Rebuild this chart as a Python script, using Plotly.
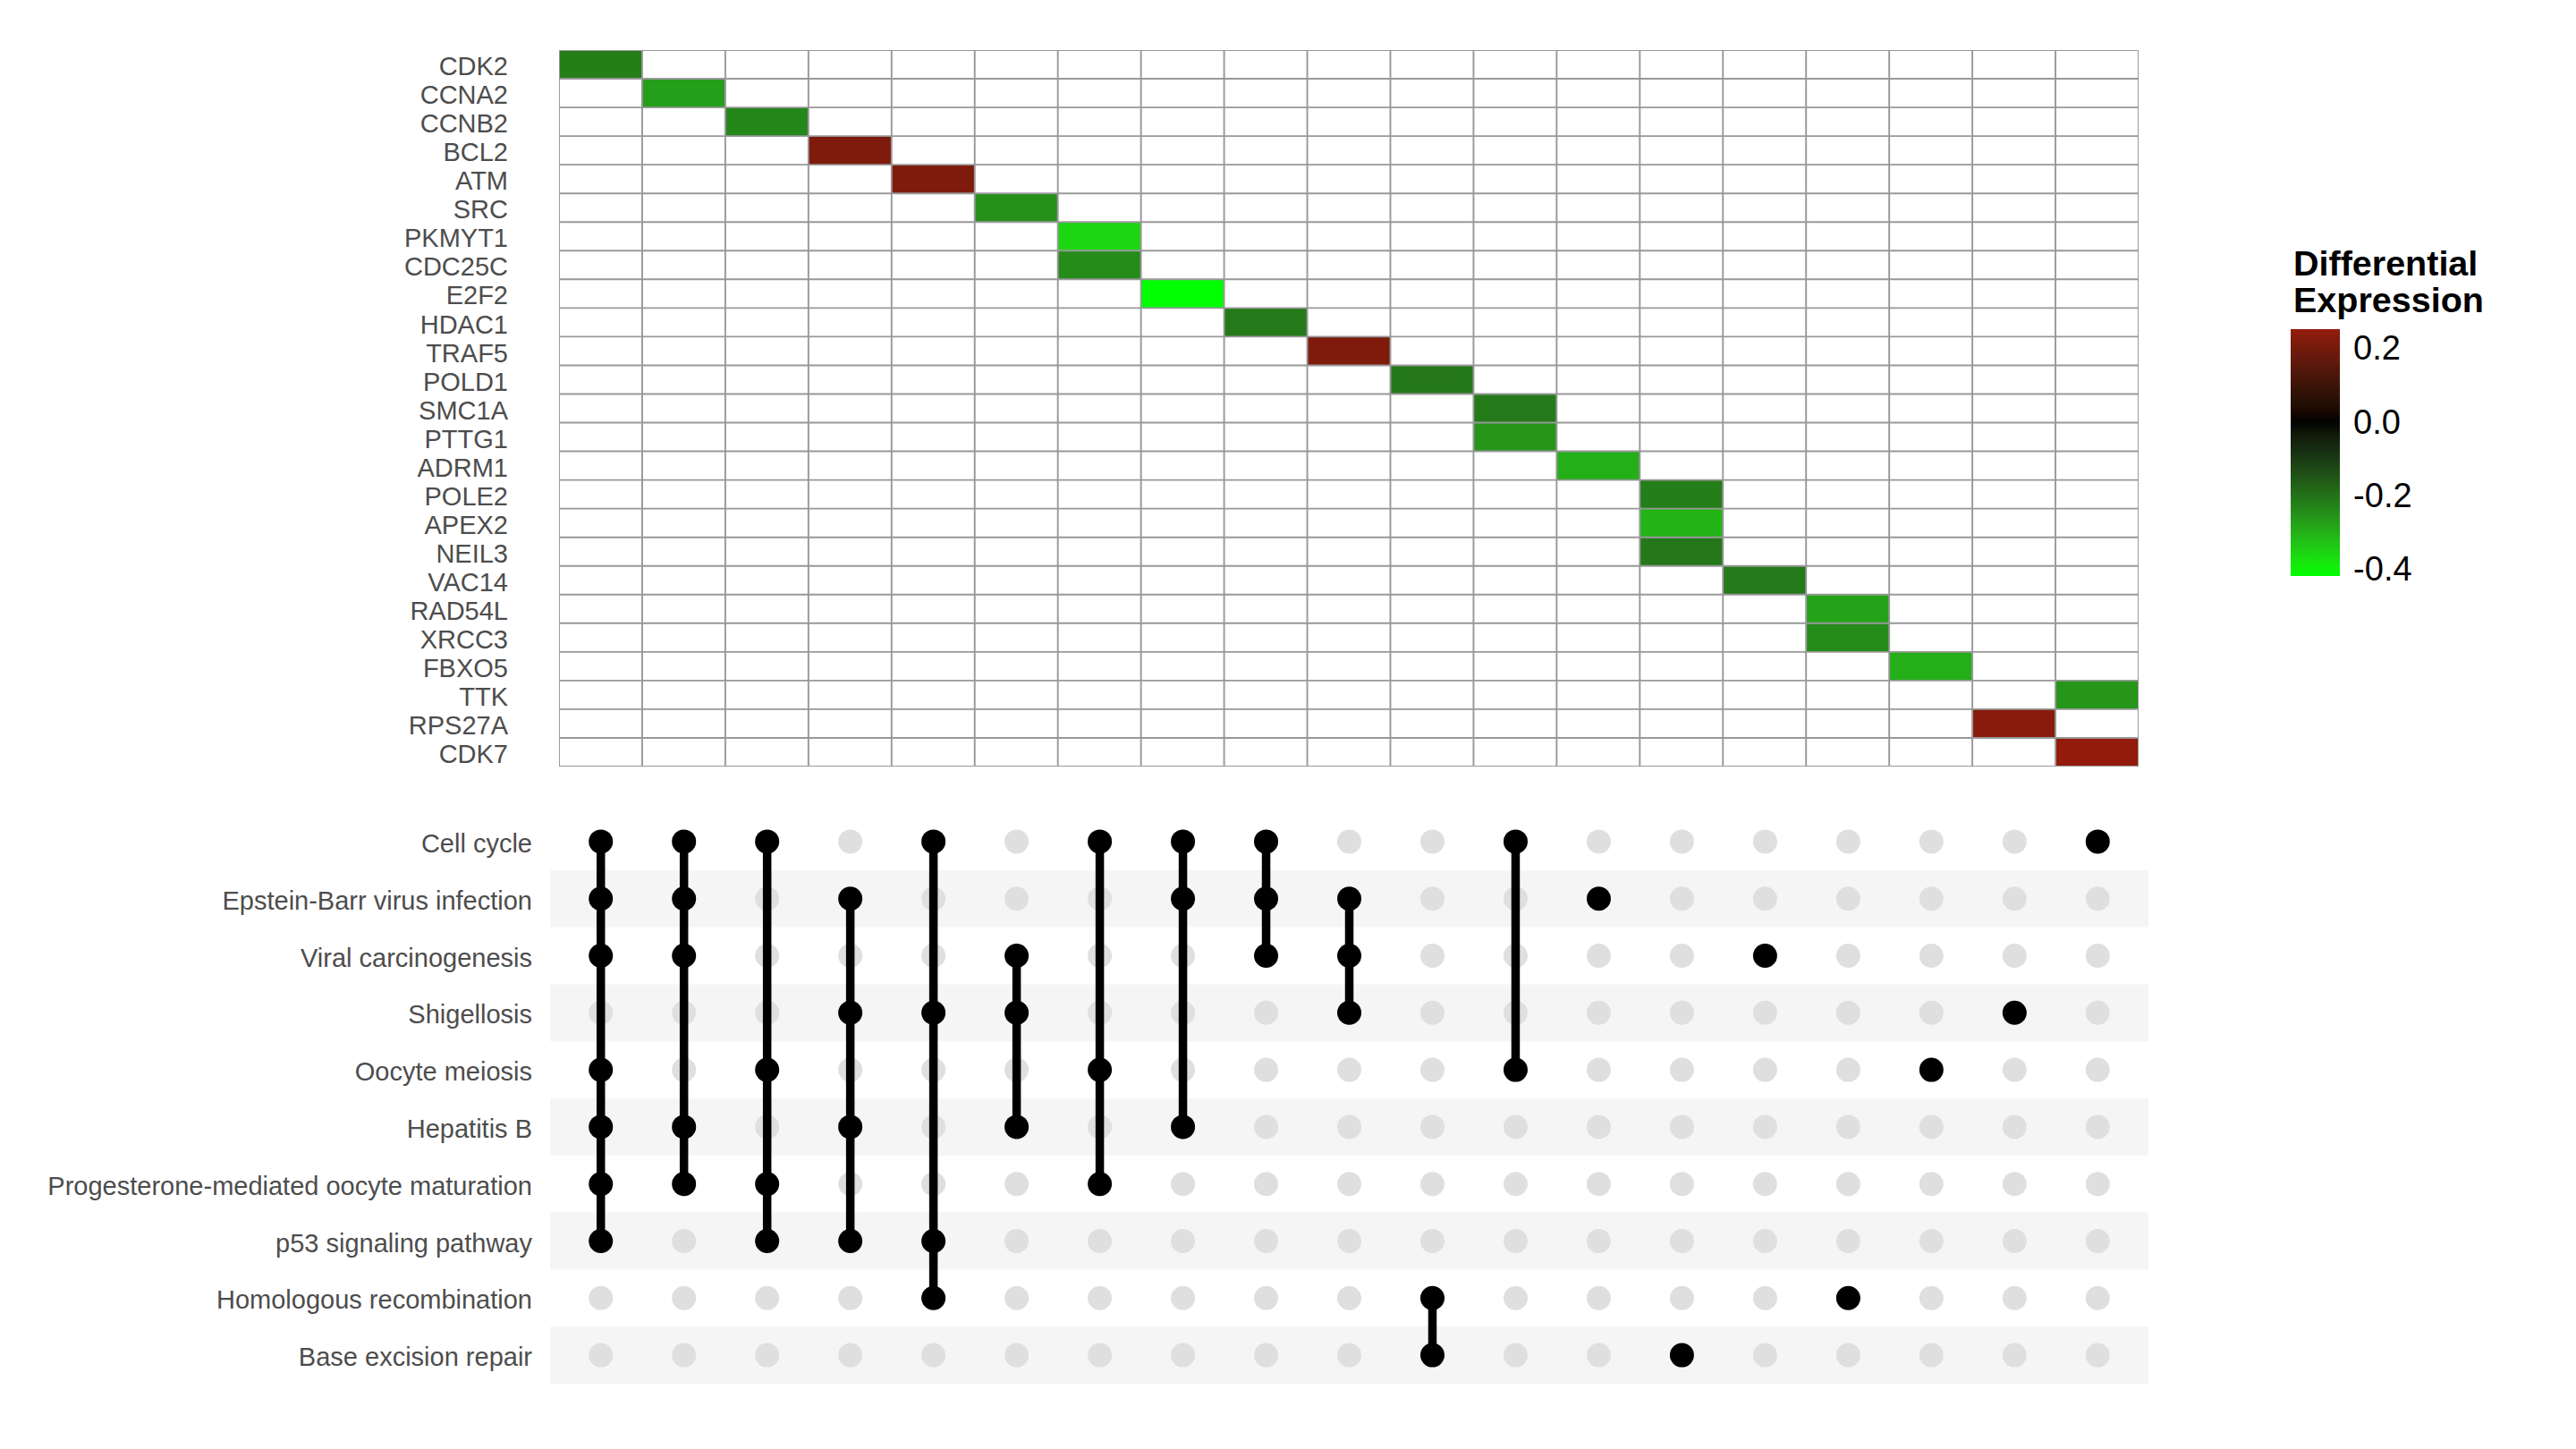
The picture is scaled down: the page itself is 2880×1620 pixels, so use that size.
import numpy as np
import plotly.graph_objects as go

# ---------------- data ----------------
genes = ["CDK2", "CCNA2", "CCNB2", "BCL2", "ATM", "SRC", "PKMYT1", "CDC25C", "E2F2",
         "HDAC1", "TRAF5", "POLD1", "SMC1A", "PTTG1", "ADRM1", "POLE2", "APEX2", "NEIL3",
         "VAC14", "RAD54L", "XRCC3", "FBXO5", "TTK", "RPS27A", "CDK7"]
gene_column = [1, 2, 3, 4, 5, 6, 7, 7, 8, 9, 10, 11, 12, 12, 13, 14, 14, 14,
               15, 16, 16, 17, 19, 18, 19]
gene_logfc = [-0.222, -0.272, -0.235, 0.217, 0.217, -0.251, -0.359, -0.243, -0.419,
              -0.214, 0.216, -0.210, -0.214, -0.259, -0.300, -0.220, -0.307, -0.210,
              -0.214, -0.280, -0.243, -0.298, -0.260, 0.234, 0.251]

pathways = ["Cell cycle", "Epstein-Barr virus infection", "Viral carcinogenesis",
            "Shigellosis", "Oocyte meiosis", "Hepatitis B",
            "Progesterone-mediated oocyte maturation", "p53 signaling pathway",
            "Homologous recombination", "Base excision repair"]

# membership of each intersection column (1..19)
column_sets = [
    ["Cell cycle", "Epstein-Barr virus infection", "Viral carcinogenesis", "Oocyte meiosis",
     "Hepatitis B", "Progesterone-mediated oocyte maturation", "p53 signaling pathway"],
    ["Cell cycle", "Epstein-Barr virus infection", "Viral carcinogenesis", "Hepatitis B",
     "Progesterone-mediated oocyte maturation"],
    ["Cell cycle", "Oocyte meiosis", "Progesterone-mediated oocyte maturation",
     "p53 signaling pathway"],
    ["Epstein-Barr virus infection", "Shigellosis", "Hepatitis B", "p53 signaling pathway"],
    ["Cell cycle", "Shigellosis", "p53 signaling pathway", "Homologous recombination"],
    ["Viral carcinogenesis", "Shigellosis", "Hepatitis B"],
    ["Cell cycle", "Oocyte meiosis", "Progesterone-mediated oocyte maturation"],
    ["Cell cycle", "Epstein-Barr virus infection", "Hepatitis B"],
    ["Cell cycle", "Epstein-Barr virus infection", "Viral carcinogenesis"],
    ["Epstein-Barr virus infection", "Viral carcinogenesis", "Shigellosis"],
    ["Homologous recombination", "Base excision repair"],
    ["Cell cycle", "Oocyte meiosis"],
    ["Epstein-Barr virus infection"],
    ["Base excision repair"],
    ["Viral carcinogenesis"],
    ["Homologous recombination"],
    ["Oocyte meiosis"],
    ["Shigellosis"],
    ["Cell cycle"],
]

colorbar_ticks = [-0.4, -0.2, 0.0, 0.2]
colorbar_ticktext = ["-0.4", "-0.2", "0.0", "0.2"]

# ---------------- colour helpers (ggplot gradient2, Lab interpolation) ----------------
def _lin(c):
    c = np.asarray(c, float) / 255.0
    return np.where(c <= 0.04045, c / 12.92, ((c + 0.055) / 1.055) ** 2.4)

def _delin(c):
    c = np.where(c <= 0.0031308, 12.92 * c, 1.055 * np.power(np.clip(c, 0, None), 1 / 2.4) - 0.055)
    return np.clip(np.round(c * 255), 0, 255).astype(int)

_M = np.array([[0.4124564, 0.3575761, 0.1804375],
               [0.2126729, 0.7151522, 0.0721750],
               [0.0193339, 0.1191920, 0.9503041]])
_Mi = np.linalg.inv(_M)
_WP = np.array([0.95047, 1.0, 1.08883])

def rgb2lab(rgb):
    xyz = _M @ _lin(rgb) / _WP
    f = np.where(xyz > 216 / 24389, np.cbrt(xyz), (24389 / 27 * xyz + 16) / 116)
    return np.array([116 * f[1] - 16, 500 * (f[0] - f[1]), 200 * (f[1] - f[2])])

def lab2rgb(lab):
    L, a, b = lab
    fy = (L + 16) / 116
    fx = fy + a / 500
    fz = fy - b / 200
    def finv(t):
        return t ** 3 if t ** 3 > 216 / 24389 else (116 * t - 16) / (24389 / 27)
    xyz = np.array([finv(fx), finv(fy), finv(fz)]) * _WP
    return _delin(_Mi @ xyz)

LOW, MID, HIGH = rgb2lab([0, 255, 0]), rgb2lab([0, 0, 0]), rgb2lab([255, 0, 0])
zmin, zmax = min(gene_logfc), max(gene_logfc)
maxabs = max(abs(zmin), abs(zmax))

def grad2(v):
    t = v / maxabs
    lab = MID + (LOW - MID) * (-t) if t < 0 else MID + (HIGH - MID) * t
    r, g, b = lab2rgb(lab)
    return f"rgb({r},{g},{b})"

colorscale = []
for v in np.linspace(zmin, zmax, 61):
    colorscale.append([(v - zmin) / (zmax - zmin), grad2(v)])
colorscale[0][0] = 0.0
colorscale[-1][0] = 1.0

# ---------------- geometry ----------------
W, H = 2880, 1620
FONT = "Liberation Sans, Arial, sans-serif"
ncol = len(column_sets)
ngene = len(genes)
npath = len(pathways)

hm_x = [625 / W, 2391 / W]
hm_y = [1 - 857 / H, 1 - 56 / H]
mx_x = [615 / W, 2402 / W]
mx_y = [1 - 1547 / H, 1 - 909 / H]

# heatmap matrix
z = [[None] * ncol for _ in range(ngene)]
for gi, (c, v) in enumerate(zip(gene_column, gene_logfc)):
    z[gi][c - 1] = v

fig = go.Figure()

cb_top_px, cb_len_px, cb_left_px, cb_thick = 368, 276, 2561, 55
fig.add_trace(go.Heatmap(
    z=z, x=list(range(1, ncol + 1)), y=list(range(1, ngene + 1)),
    colorscale=colorscale, zmin=zmin, zmax=zmax, hoverongaps=False,
    xaxis="x", yaxis="y",
    colorbar=dict(
        x=cb_left_px / W, xanchor="left", y=1 - cb_top_px / H, yanchor="top",
        lenmode="pixels", len=cb_len_px, thicknessmode="pixels", thickness=cb_thick,
        xpad=0, ypad=0, outlinewidth=0,
        tickvals=colorbar_ticks, ticktext=colorbar_ticktext,
        ticks="outside", ticklen=8, tickwidth=1, tickcolor="white",
        tickfont=dict(family=FONT, size=38, color="black"),
    ),
))

# matrix: grey dots
pidx = {p: i for i, p in enumerate(pathways)}
gx, gy, bx, by, lx, ly = [], [], [], [], [], []
for ci, members in enumerate(column_sets):
    col = ci + 1
    rows = sorted(pidx[m] for m in members)
    for r in range(npath):
        if r in rows:
            bx.append(col); by.append(r)
        else:
            gx.append(col); gy.append(r)
    if len(rows) > 1:
        lx += [col, col, None]
        ly += [rows[0], rows[-1], None]

fig.add_trace(go.Scatter(x=gx, y=gy, mode="markers", xaxis="x2", yaxis="y2",
                         marker=dict(size=27, color="#DFDFDF", line=dict(width=0)),
                         showlegend=False, hoverinfo="skip"))
fig.add_trace(go.Scatter(x=lx, y=ly, mode="lines", xaxis="x2", yaxis="y2",
                         line=dict(color="black", width=9.5),
                         showlegend=False, hoverinfo="skip"))
fig.add_trace(go.Scatter(x=bx, y=by, mode="markers", xaxis="x2", yaxis="y2",
                         marker=dict(size=27, color="black", line=dict(width=0)),
                         showlegend=False, hoverinfo="skip"))

shapes = []
# background stripes
for r in range(npath):
    if r % 2 == 1:
        shapes.append(dict(type="rect", xref="x2 domain", yref="y2", x0=0, x1=1,
                           y0=r - 0.5, y1=r + 0.5, fillcolor="#F5F5F5",
                           line=dict(width=0), layer="below"))
# heatmap grid
GRID = dict(color="#989898", width=1.9)
for k in range(ncol + 1):
    shapes.append(dict(type="line", xref="x", yref="y domain", x0=k + 0.5, x1=k + 0.5,
                       y0=0, y1=1, line=GRID, layer="above"))
for k in range(ngene + 1):
    shapes.append(dict(type="line", xref="x domain", yref="y", x0=0, x1=1,
                       y0=k + 0.5, y1=k + 0.5, line=GRID, layer="above"))
# white ticks on both sides of the colorbar
for v in colorbar_ticks:
    ypx = cb_top_px + (zmax - v) / (zmax - zmin) * cb_len_px
    for x0 in (cb_left_px, cb_left_px + cb_thick - 11):
        shapes.append(dict(type="line", xref="paper", yref="paper",
                           x0=x0 / W, x1=(x0 + 11) / W,
                           y0=1 - ypx / H, y1=1 - ypx / H,
                           line=dict(color="white", width=2), layer="above"))

annotations = [
    dict(text="<b>Differential</b>", x=2562 / W, y=1 - 294 / H, xref="paper", yref="paper",
         xanchor="left", yanchor="middle", showarrow=False,
         font=dict(family=FONT, size=39.5, color="black")),
    dict(text="<b>Expression</b>", x=2562 / W, y=1 - 335 / H, xref="paper", yref="paper",
         xanchor="left", yanchor="middle", showarrow=False,
         font=dict(family=FONT, size=39.5, color="black")),
]

fig.update_layout(
    width=W, height=H, margin=dict(l=0, r=0, t=0, b=0, autoexpand=False),
    paper_bgcolor="white", plot_bgcolor="white",
    showlegend=False, shapes=shapes, annotations=annotations,
    font=dict(family=FONT),
    xaxis=dict(domain=hm_x, range=[0.5, ncol + 0.5], showgrid=False, zeroline=False,
               showticklabels=False, ticks="", showline=False, automargin=False),
    yaxis=dict(domain=hm_y, range=[ngene + 0.5, 0.5], showgrid=False, zeroline=False,
               tickvals=list(range(1, ngene + 1)), ticktext=genes, ticks="",
               ticklabelstandoff=56, ticklabelshift=-2, automargin=False,
               tickfont=dict(family=FONT, size=29, color="#4D4D4D"), showline=False),
    xaxis2=dict(domain=mx_x, range=[0.39, ncol + 0.61], showgrid=False, zeroline=False,
                showticklabels=False, ticks="", showline=False, anchor="y2",
                automargin=False),
    yaxis2=dict(domain=mx_y, range=[npath - 0.5, -0.5], showgrid=False, zeroline=False,
                tickvals=list(range(npath)), ticktext=pathways, ticks="",
                ticklabelstandoff=19, ticklabelshift=-2, anchor="x2", automargin=False,
                tickfont=dict(family=FONT, size=29, color="#4D4D4D"), showline=False),
)

fig.write_html("out.html")
